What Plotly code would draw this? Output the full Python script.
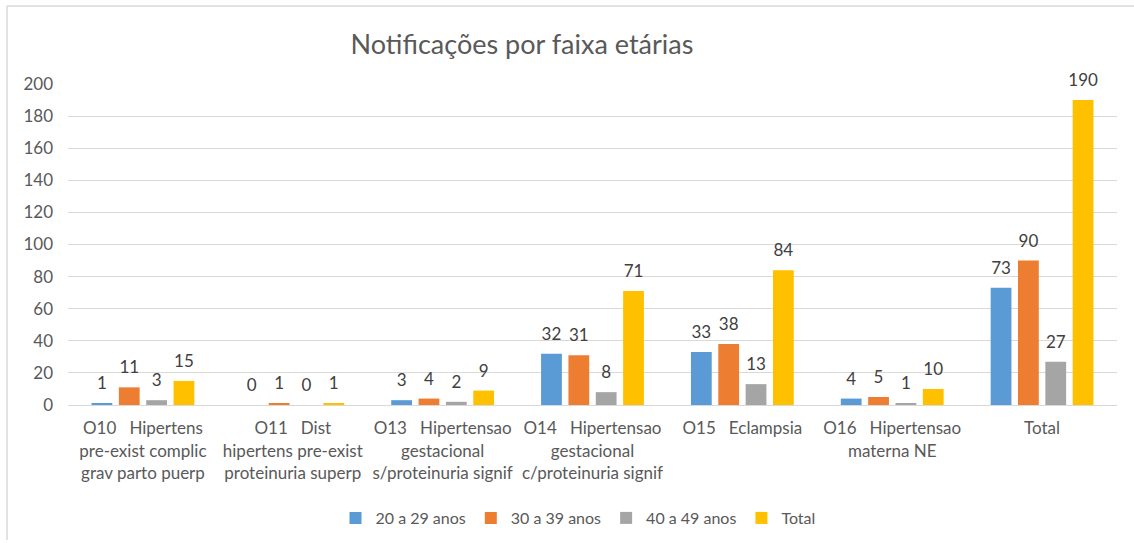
import plotly.graph_objects as go

categories = [
    "O10\u00a0\u00a0\u00a0Hipertens<br>pre-exist complic<br>grav parto puerp",
    "O11\u00a0\u00a0\u00a0Dist<br>hipertens pre-exist<br>proteinuria superp",
    "O13\u00a0\u00a0\u00a0Hipertensao<br>gestacional<br>s/proteinuria signif",
    "O14\u00a0\u00a0\u00a0Hipertensao<br>gestacional<br>c/proteinuria signif",
    "O15\u00a0\u00a0\u00a0Eclampsia",
    "O16\u00a0\u00a0\u00a0Hipertensao<br>materna NE",
    "Total",
]
series_names = ["20 a 29 anos", "30 a 39 anos", "40 a 49 anos", "Total"]
s20_29 = [1, 0, 3, 32, 33, 4, 73]
s30_39 = [11, 1, 4, 31, 38, 5, 90]
s40_49 = [3, 0, 2, 8, 13, 1, 27]
s_total = [15, 1, 9, 71, 84, 10, 190]
colors = ["#5B9BD5", "#ED7D31", "#A5A5A5", "#FFC000"]
y_ticks = [0, 20, 40, 60, 80, 100, 120, 140, 160, 180, 200]

FONT = "Lato"
fig = go.Figure()
all_series = [s20_29, s30_39, s40_49, s_total]
for i, (name, vals, col) in enumerate(zip(series_names, all_series, colors)):
    fig.add_trace(go.Bar(
        x=categories, y=vals, name=name, offsetgroup=str(i),
        marker=dict(color=col, line=dict(width=0)),
    ))
for i, vals in enumerate(all_series):
    fig.add_trace(go.Scatter(
        x=categories, y=vals, mode="markers+text", offsetgroup=str(i),
        marker=dict(size=14, opacity=0), showlegend=False, hoverinfo="skip",
        text=[str(v) for v in vals], textposition="top center",
        textfont=dict(family=FONT, size=17, color="#404040"),
        cliponaxis=False,
    ))

fig.update_layout(
    width=1134, height=543,
    paper_bgcolor="white", plot_bgcolor="white",
    margin=dict(l=68, r=17, t=84, b=138),
    barmode="group", bargap=0.27, bargroupgap=0.24,
    scattermode="group", scattergap=0.27,
    font=dict(family=FONT, color="#595959"),
    title=dict(text="Notificações por faixa etárias", x=522 / 1134, xref="container",
               xanchor="center", y=1 - 45 / 543, yref="container", yanchor="middle",
               font=dict(family=FONT, size=27, color="#595959")),
    legend=dict(orientation="h", x=578 / 1134, xanchor="center", xref="container",
                y=1 - 518 / 543, yref="container", yanchor="middle",
                font=dict(family=FONT, size=16, color="#595959"),
                itemwidth=30, traceorder="normal"),
    xaxis=dict(tickfont=dict(family=FONT, size=17, color="#595959"),
               showline=True, linecolor="#D9D9D9", ticks="", tickangle=0,
               ticklabelstandoff=8, automargin=False),
    yaxis=dict(range=[0, 200], tickvals=y_ticks, showgrid=True, gridcolor="#D9D9D9",
               zeroline=False, tickfont=dict(family=FONT, size=17, color="#595959"),
               ticks="", ticklabelstandoff=14, automargin=False),
    shapes=[
        dict(type="line", xref="paper", yref="paper",
             x0=(7 - 68) / 1049, x1=(7 - 68) / 1049, y0=(405 - 6) / 321, y1=(405 - 540) / 321,
             line=dict(color="#D9D9D9", width=1.5)),
        dict(type="line", xref="paper", yref="paper",
             x0=(7 - 68) / 1049, x1=(1134 - 68) / 1049, y0=(405 - 6) / 321, y1=(405 - 6) / 321,
             line=dict(color="#D9D9D9", width=1.5)),
    ],
)
fig.write_html("out.html", config={"displayModeBar": False},
               post_script="document.body.style.margin='0px';")
